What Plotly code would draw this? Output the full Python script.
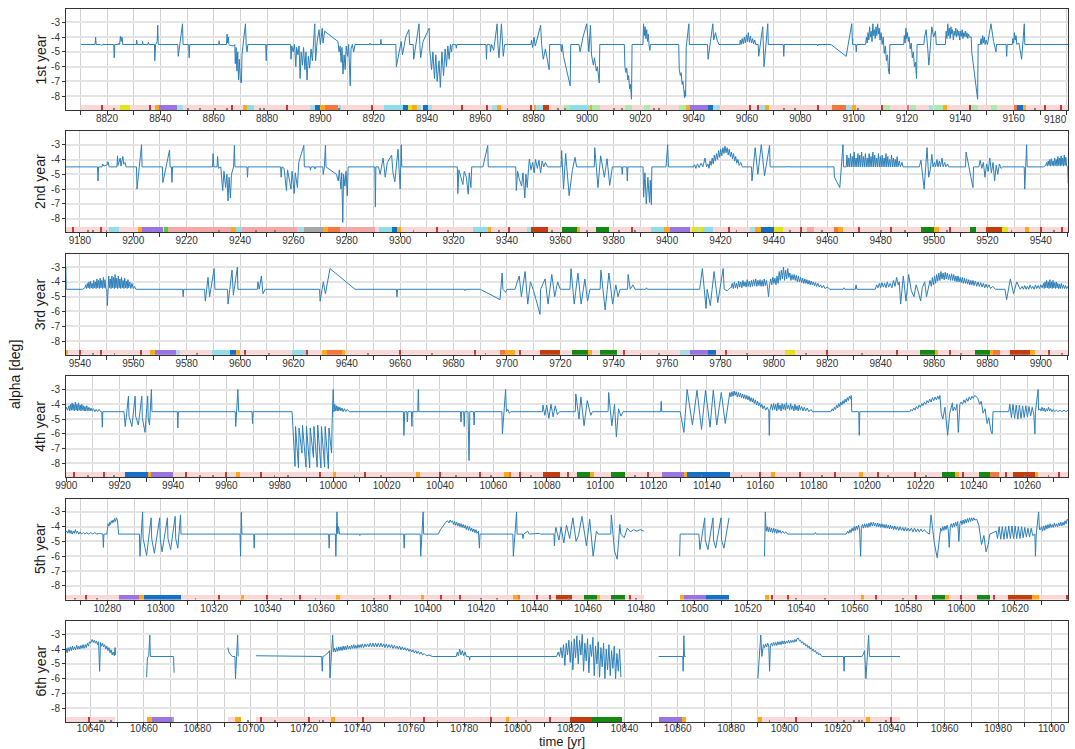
import math
import plotly.graph_objects as go
from plotly.subplots import make_subplots

# ---------------------------------------------------------------------------
# alpha [deg] time series, (time [yr], alpha) pairs; None marks a data gap
# ---------------------------------------------------------------------------
year1 = [
    (8810.2, -4.5), (8815.5, -4.5), (8815.7, -4.0), (8815.9, -4.5), (8817.5, -4.5), (8818.0, -4.55), (8818.5, -4.5),
    (8822.5, -4.5), (8822.7, -5.4), (8822.9, -4.5), (8824.3, -4.5), (8824.5, -4.4), (8824.7, -4.5), (8825.0, -3.95),
    (8825.3, -4.3), (8825.6, -4.0), (8825.9, -4.5),
    (8831.0, -4.5), (8831.1, -4.2), (8831.3, -4.5), (8833.2, -4.5), (8833.3, -4.3), (8833.5, -4.5), (8835.3, -4.5),
    (8835.5, -4.35), (8835.7, -4.5),
    (8837.8, -4.5), (8837.9, -5.6), (8838.2, -4.5), (8838.8, -4.3), (8839.0, -3.2), (8839.2, -4.5),
    (8846.5, -4.5), (8846.7, -5.3), (8848.3, -3.1), (8848.5, -4.5),
    (8850.6, -4.5), (8850.8, -5.4), (8851.0, -4.5),
    (8861.9, -4.5), (8862.0, -4.25), (8862.2, -4.5), (8864.8, -4.5), (8865.0, -3.8), (8865.2, -4.4), (8865.5, -4.0),
    (8865.7, -4.5), (8866.0, -4.55), (8867.5, -4.6),
    (8867.9, -4.5), (8868.1, -5.8), (8868.4, -4.7), (8868.7, -6.3), (8869.0, -5.0), (8869.3, -6.9), (8869.6, -5.5),
    (8870.0, -7.0), (8870.4, -7.1), (8870.6, -5.2), (8871.0, -4.6),
    (8871.9, -3.1), (8872.2, -4.6), (8872.5, -5.0), (8872.8, -4.5),
    (8879.5, -4.5), (8879.7, -5.6), (8879.9, -4.5),
    (8888.8, -4.5), (8889.0, -5.5), (8889.3, -4.6), (8889.8, -5.0), (8890.3, -4.5), (8890.8, -6.0), (8891.1, -4.7),
    (8891.6, -5.2), (8892.0, -4.6), (8892.4, -6.8), (8892.8, -5.0), (8893.3, -5.9), (8893.7, -4.7), (8894.2, -6.2),
    (8894.6, -5.0), (8895.0, -6.9), (8895.5, -5.3), (8896.0, -6.1), (8896.5, -4.8), (8897.0, -5.6),
    (8897.9, -3.1), (8898.2, -5.6), (8898.8, -4.3), (8899.5, -3.5), (8900.0, -4.5), (8900.7, -3.4), (8901.0, -4.4),
    (8901.6, -3.6), (8906.6, -4.3),
    (8907.0, -5.0), (8907.4, -4.6), (8907.8, -5.7), (8908.1, -4.7), (8908.5, -6.5), (8908.9, -5.2), (8909.3, -6.2),
    (8909.7, -4.6), (8910.2, -5.3), (8910.6, -4.5), (8911.2, -7.3), (8911.5, -4.8), (8912.0, -4.5), (8912.5, -5.0),
    (8913.0, -4.5),
    (8918.5, -4.5), (8918.6, -4.4), (8918.8, -4.5), (8922.6, -4.5), (8922.7, -4.15), (8922.9, -4.5),
    (8928.3, -4.5), (8928.5, -6.0), (8930.3, -4.3), (8930.8, -5.2), (8932.0, -4.0), (8933.2, -3.5), (8933.5, -4.5),
    (8934.8, -4.5), (8935.0, -5.5), (8937.0, -3.1), (8937.3, -4.5), (8937.6, -5.4), (8938.5, -4.3), (8940.8, -3.4),
    (8941.0, -4.8),
    (8941.7, -6.2), (8942.2, -5.0), (8942.8, -6.8), (8943.3, -5.2), (8943.8, -7.0), (8944.5, -5.6), (8945.0, -7.4),
    (8945.6, -5.0), (8946.2, -6.6), (8946.8, -4.8), (8947.3, -6.0), (8947.8, -4.6), (8948.3, -5.5), (8948.8, -4.5),
    (8949.2, -5.0), (8949.5, -4.5),
    (8950.8, -4.5), (8951.0, -4.75), (8951.2, -4.5),
    (8962.1, -4.5), (8962.3, -5.5), (8962.5, -4.5), (8963.6, -4.5), (8963.8, -5.0), (8964.2, -4.5), (8965.0, -4.9),
    (8966.3, -3.1), (8966.6, -4.6), (8967.0, -5.4), (8967.9, -3.1), (8968.2, -4.6), (8968.6, -5.3), (8969.1, -4.5),
    (8979.0, -4.5), (8979.2, -4.2), (8979.6, -4.7), (8980.1, -4.0), (8980.6, -4.6), (8981.2, -4.2), (8982.6, -3.2),
    (8983.0, -4.5), (8983.6, -5.5), (8984.4, -4.8), (8985.8, -6.2), (8986.0, -4.5),
    (8990.2, -4.5), (8990.4, -5.0), (8990.7, -4.5), (8991.2, -5.3), (8993.7, -7.3), (8993.9, -4.5),
    (8997.0, -4.5), (8997.4, -5.0), (8998.5, -4.0), (8999.9, -3.1), (9000.3, -4.5), (9000.7, -5.0), (9001.3, -3.2),
    (9001.7, -5.2), (9002.4, -5.9), (9002.8, -5.4), (9003.5, -6.3), (9003.9, -6.0), (9004.6, -7.1), (9004.8, -4.5),
    (9014.0, -4.5), (9014.2, -6.0), (9014.6, -6.4), (9014.9, -6.1), (9015.3, -6.9), (9015.6, -6.6), (9016.0, -7.5),
    (9016.3, -7.2), (9016.7, -8.2), (9016.9, -4.5),
    (9021.0, -4.5), (9021.2, -3.1), (9021.5, -3.9), (9021.8, -3.3), (9022.1, -4.1), (9022.4, -3.5), (9022.7, -4.3),
    (9023.0, -3.8), (9023.3, -4.6), (9023.6, -4.9), (9023.8, -4.5),
    (9034.4, -4.5), (9034.6, -6.2), (9035.0, -6.6), (9035.3, -6.4), (9035.7, -7.2), (9036.0, -7.0), (9036.3, -7.7),
    (9036.6, -8.1), (9036.8, -7.6), (9037.0, -8.0), (9037.2, -4.7), (9038.2, -3.1), (9038.4, -4.5),
    (9045.2, -4.5), (9045.4, -5.5), (9047.2, -3.1), (9047.5, -4.2), (9048.2, -3.7), (9048.8, -4.2), (9049.5, -4.5),
    (9057.3, -4.5), (9057.5, -4.2), (9057.8, -4.5), (9058.2, -4.1), (9058.6, -4.45), (9059.0, -4.0), (9059.4, -4.4),
    (9059.8, -3.85), (9060.2, -4.3), (9060.5, -3.7), (9060.9, -4.35), (9061.3, -3.95), (9061.7, -4.4), (9062.1, -4.1),
    (9062.5, -4.45), (9062.9, -4.2), (9063.3, -4.5),
    (9064.2, -4.5), (9064.4, -5.3), (9065.9, -3.3), (9066.4, -6.0), (9067.8, -3.1), (9068.0, -4.5),
    (9073.6, -4.5), (9073.8, -5.3), (9074.0, -4.5),
    (9086.3, -4.5), (9086.5, -4.6), (9086.7, -4.5),
    (9091.5, -4.5), (9097.2, -5.3), (9099.3, -3.1), (9099.6, -4.5), (9100.8, -4.5), (9101.0, -5.0), (9101.2, -4.5),
    (9104.5, -4.5), (9104.8, -4.0), (9105.1, -4.4), (9105.4, -3.7), (9105.7, -4.2), (9106.0, -3.3), (9106.3, -4.0),
    (9106.6, -3.6), (9106.9, -4.3), (9107.2, -3.1), (9107.5, -3.9), (9107.8, -3.5), (9108.1, -4.1), (9108.4, -3.3),
    (9108.7, -3.9), (9109.0, -3.1), (9109.3, -3.8), (9109.6, -3.4), (9109.9, -4.2), (9110.3, -3.7), (9110.7, -4.5),
    (9111.1, -4.0), (9111.5, -5.1), (9111.9, -4.6), (9112.3, -5.6), (9112.7, -5.2), (9113.1, -6.3), (9113.4, -6.5),
    (9113.6, -4.5),
    (9118.8, -4.5), (9119.0, -3.9), (9119.3, -4.4), (9119.6, -3.4), (9119.9, -4.1), (9120.2, -3.7), (9120.5, -4.3),
    (9120.8, -4.0), (9121.2, -4.8), (9121.6, -4.4), (9122.0, -5.4), (9122.4, -5.0), (9122.8, -6.0), (9123.2, -5.7),
    (9123.6, -6.8), (9123.8, -4.5),
    (9126.3, -4.5), (9126.6, -4.0), (9127.2, -3.5), (9127.8, -4.8), (9128.2, -5.9), (9128.5, -5.3), (9129.3, -3.3),
    (9130.0, -4.0), (9130.7, -3.6), (9131.0, -4.5),
    (9134.4, -4.5), (9134.7, -3.6), (9135.0, -4.1), (9135.3, -3.1), (9135.6, -3.9), (9135.9, -3.4), (9136.2, -4.1),
    (9136.5, -3.3), (9136.8, -3.8), (9137.1, -3.5), (9137.4, -4.2), (9137.7, -3.6), (9138.0, -3.9), (9138.3, -3.4),
    (9138.6, -4.0), (9138.9, -3.5), (9139.2, -3.9), (9139.5, -3.6), (9139.8, -4.2), (9140.1, -3.6), (9140.4, -3.95),
    (9140.7, -3.5), (9141.0, -4.1), (9141.3, -3.7), (9141.6, -3.95), (9141.9, -3.6), (9142.2, -4.0), (9142.5, -3.7),
    (9142.8, -4.1), (9143.1, -3.8), (9143.4, -4.0),
    (9144.1, -4.0), (9144.3, -5.0), (9146.5, -8.2), (9146.7, -4.5),
    (9147.5, -4.5), (9147.8, -4.1), (9148.1, -4.5), (9148.4, -3.9), (9148.7, -4.4), (9149.0, -4.0), (9149.3, -4.5),
    (9149.7, -4.2), (9150.2, -4.5), (9151.5, -3.1), (9152.5, -4.3), (9153.4, -5.0), (9153.6, -4.5),
    (9157.2, -4.5), (9157.4, -5.3), (9157.6, -4.5),
    (9159.5, -4.5), (9159.7, -4.1), (9160.0, -4.4), (9160.3, -3.7), (9160.6, -4.2), (9160.9, -3.9), (9161.2, -4.5),
    (9162.0, -4.4), (9163.0, -5.5), (9164.0, -3.1), (9164.2, -4.5),
    (9172.5, -4.5), (9172.7, -4.55), (9172.9, -4.5), (9177.0, -4.5),
]

year2 = [
    (9186.6, -4.5), (9186.8, -5.45), (9187.0, -4.5), (9188.3, -4.5), (9188.5, -4.3), (9189.0, -4.45), (9190.3, -4.35),
    (9190.5, -4.15), (9190.7, -4.4), (9191.0, -4.5),
    (9193.9, -4.5), (9194.1, -3.75), (9194.3, -4.4), (9194.8, -4.1), (9195.1, -3.9), (9195.4, -4.45), (9196.1, -3.8),
    (9196.4, -4.3), (9197.0, -4.2), (9197.3, -4.5),
    (9201.2, -4.5), (9201.4, -6.0), (9203.1, -3.0), (9203.3, -4.5),
    (9210.9, -4.5), (9211.1, -5.55), (9213.6, -3.36), (9213.8, -4.5), (9214.3, -4.5), (9214.5, -5.55), (9214.7, -4.5),
    (9229.7, -4.5), (9229.9, -3.6), (9230.2, -4.5), (9231.4, -4.5), (9231.6, -3.8), (9231.9, -4.6), (9232.8, -4.5),
    (9233.5, -6.1), (9234.0, -4.8), (9234.6, -5.9), (9235.1, -5.0), (9235.5, -6.8), (9235.9, -5.2), (9236.4, -6.6),
    (9236.8, -5.0), (9237.6, -4.5), (9237.9, -3.05), (9238.1, -4.5),
    (9242.6, -4.5), (9242.8, -5.2), (9243.0, -4.5),
    (9255.2, -4.5), (9255.4, -5.2), (9255.7, -4.5), (9256.5, -4.6), (9257.4, -6.1), (9257.8, -4.7), (9258.4, -5.3),
    (9259.1, -6.0), (9259.5, -4.8), (9260.3, -6.3), (9260.7, -4.9), (9261.5, -5.9), (9262.0, -4.2), (9263.9, -3.05),
    (9264.1, -4.5),
    (9266.2, -4.5), (9266.4, -4.72), (9266.6, -4.5), (9267.9, -4.5), (9268.1, -4.65), (9268.3, -4.5),
    (9271.0, -4.5), (9271.2, -5.0), (9271.6, -4.5), (9272.0, -3.05), (9272.2, -4.5), (9276.1, -5.0), (9276.8, -5.45),
    (9277.2, -4.7), (9277.8, -6.0), (9278.1, -4.9), (9278.5, -8.25), (9278.8, -5.0), (9279.3, -5.8), (9279.7, -4.8),
    (9280.2, -6.45), (9280.5, -4.5),
    (9290.5, -4.5), (9290.7, -7.2), (9290.9, -4.5), (9291.9, -4.5), (9292.5, -5.0), (9293.6, -3.9), (9294.4, -5.2),
    (9295.2, -4.2), (9296.8, -3.7), (9297.3, -4.9), (9298.0, -5.5), (9299.2, -3.3), (9299.6, -4.6), (9300.0, -6.0),
    (9300.4, -3.0), (9300.6, -4.5),
    (9321.4, -4.5), (9321.6, -6.3), (9322.0, -4.7), (9322.8, -5.3), (9323.5, -5.7), (9324.0, -4.8), (9324.8, -5.2),
    (9325.5, -6.35), (9325.9, -4.9), (9326.5, -5.9), (9326.8, -4.5),
    (9331.0, -4.5), (9332.8, -3.05), (9333.0, -4.5),
    (9343.3, -4.5), (9343.5, -6.1), (9344.0, -4.8), (9344.6, -5.3), (9345.5, -5.8), (9346.0, -4.9), (9346.7, -6.6),
    (9347.1, -5.0), (9347.6, -5.9), (9348.1, -4.6),
    (9348.4, -3.97), (9349.0, -4.7), (9349.6, -4.2), (9350.2, -4.9), (9350.7, -4.0), (9351.4, -4.6), (9352.0, -4.05),
    (9352.6, -4.9), (9353.2, -4.1), (9353.8, -4.5), (9354.4, -4.2), (9355.2, -4.5),
    (9360.3, -4.5), (9360.5, -3.4), (9361.2, -6.0), (9362.0, -3.6), (9363.3, -6.45), (9364.5, -4.75), (9365.5, -3.85),
    (9366.1, -4.5),
    (9372.7, -4.5), (9372.9, -3.2), (9374.1, -5.9), (9375.1, -3.75), (9376.5, -5.2), (9377.5, -3.95), (9378.5, -5.75),
    (9379.5, -4.5),
    (9383.0, -4.5), (9383.2, -5.0), (9383.4, -4.5), (9384.9, -4.5), (9385.1, -5.45), (9385.3, -4.5),
    (9391.0, -4.5), (9391.2, -6.55), (9391.7, -4.9), (9392.2, -7.0), (9392.8, -5.2), (9393.4, -6.9), (9393.7, -5.4),
    (9394.1, -7.05), (9394.3, -4.5),
    (9399.6, -4.5), (9400.2, -3.0), (9400.5, -4.5),
    (9409.9, -4.5), (9410.3, -4.35), (9410.8, -4.6), (9411.4, -4.3), (9412.0, -4.55), (9412.7, -4.25), (9413.4, -4.5),
    (9414.2, -3.9), (9414.8, -4.5),
    (9415.3, -4.3), (9415.7, -4.6), (9416.1, -4.1), (9416.5, -4.4), (9416.9, -3.9), (9417.3, -4.3), (9417.7, -3.7),
    (9418.1, -4.1), (9418.5, -3.6), (9418.9, -4.0), (9419.3, -3.4), (9419.7, -3.85), (9420.1, -3.3), (9420.5, -3.75),
    (9420.9, -3.2), (9421.3, -3.6), (9421.7, -3.1), (9422.1, -3.55), (9422.5, -3.2), (9422.9, -3.7), (9423.3, -3.3),
    (9423.7, -3.8), (9424.1, -3.5), (9424.5, -3.95), (9424.9, -3.6), (9425.3, -4.1), (9425.7, -3.8), (9426.1, -4.25),
    (9426.5, -4.0), (9427.0, -4.4), (9427.6, -4.2), (9428.2, -4.5),
    (9431.6, -4.5), (9431.8, -5.45), (9433.0, -3.2), (9434.0, -5.0), (9435.3, -3.0), (9436.5, -5.1), (9438.4, -3.05),
    (9438.6, -4.5),
    (9445.0, -4.5), (9445.1, -4.45), (9445.3, -4.5),
    (9462.5, -4.5), (9462.7, -5.2), (9464.0, -5.6), (9464.7, -5.9), (9465.9, -3.0), (9466.1, -4.5),
    (9467.1, -4.5), (9467.4, -3.7), (9467.7, -4.5), (9468.0, -3.9), (9468.3, -4.5), (9468.7, -3.6), (9469.0, -4.5),
    (9469.4, -3.8), (9469.7, -4.5), (9470.1, -3.5), (9470.4, -4.5), (9470.8, -3.9), (9471.1, -4.5), (9471.5, -3.6),
    (9471.8, -4.5), (9472.2, -3.7), (9472.5, -4.5), (9472.9, -3.5), (9473.2, -4.5), (9473.6, -3.8), (9473.9, -4.5),
    (9474.3, -3.6), (9474.6, -4.5), (9475.0, -3.9), (9475.3, -4.5), (9475.7, -3.6), (9476.0, -4.5), (9476.4, -3.8),
    (9476.7, -4.5), (9477.1, -3.5), (9477.4, -4.5), (9477.8, -3.7), (9478.1, -4.5), (9478.5, -3.9), (9478.8, -4.5),
    (9479.2, -3.6), (9479.5, -4.5), (9479.9, -3.8), (9480.2, -4.5), (9480.6, -3.7), (9480.9, -4.5), (9481.3, -3.9),
    (9481.6, -4.5), (9482.0, -3.6), (9482.3, -4.5), (9482.7, -3.8), (9483.0, -4.5), (9483.4, -4.0), (9483.7, -4.5),
    (9484.1, -3.7), (9484.4, -4.5), (9484.8, -3.9), (9485.1, -4.5), (9485.5, -4.0), (9485.8, -4.5), (9486.2, -3.8),
    (9486.5, -4.5), (9487.0, -4.1), (9487.4, -4.5), (9488.0, -4.2), (9488.4, -4.5),
    (9494.5, -4.5), (9495.1, -4.05), (9495.6, -4.8), (9496.3, -6.0), (9497.4, -3.2), (9498.0, -5.2), (9498.6, -4.7),
    (9499.2, -3.65), (9499.6, -4.5),
    (9500.2, -4.2), (9500.6, -4.5), (9501.1, -4.0), (9501.5, -4.5), (9502.0, -4.1), (9502.4, -4.5), (9503.0, -3.9),
    (9503.4, -4.5), (9504.0, -4.2), (9504.4, -4.5), (9505.1, -4.3), (9505.5, -4.5),
    (9511.8, -4.5), (9512.0, -3.5), (9514.6, -5.9), (9514.8, -4.5), (9516.8, -4.5), (9517.3, -4.05), (9517.9, -4.6),
    (9518.5, -4.2), (9519.1, -5.2), (9519.7, -4.3), (9520.3, -4.8), (9520.9, -3.9), (9521.5, -4.9), (9522.1, -4.2),
    (9522.7, -5.45), (9523.3, -4.4), (9523.9, -5.0), (9524.5, -4.3), (9525.1, -4.6), (9525.7, -4.5),
    (9533.8, -4.5), (9534.0, -6.0), (9534.7, -3.0), (9534.9, -4.5), (9541.0, -4.5),
]

year3 = [
    (9541.9, -4.4), (9542.2, -4.2), (9542.5, -4.45), (9542.8, -4.1), (9543.1, -4.4), (9543.4, -4.0), (9543.7, -4.45),
    (9544.0, -3.95), (9544.3, -4.4), (9544.6, -4.1), (9544.9, -4.45), (9545.2, -3.9), (9545.5, -4.4), (9545.8, -4.0),
    (9546.1, -4.45), (9546.4, -3.8), (9546.7, -4.4), (9547.0, -3.9), (9547.3, -4.45), (9547.6, -3.75), (9547.9, -4.4),
    (9548.2, -3.9), (9548.5, -4.45), (9548.8, -3.7), (9549.1, -4.4), (9549.4, -3.85), (9549.7, -4.45), (9550.1, -4.5),
    (9550.3, -5.6), (9550.5, -4.4), (9550.8, -3.6), (9551.1, -4.4), (9551.4, -3.8), (9551.7, -4.45), (9552.0, -3.6),
    (9552.3, -4.4), (9552.6, -3.7), (9552.9, -4.45), (9553.2, -3.5), (9553.5, -4.4), (9553.8, -3.75), (9554.1, -4.45),
    (9554.4, -3.6), (9554.7, -4.4), (9555.0, -3.8), (9555.3, -4.45), (9555.6, -3.7), (9555.9, -4.4), (9556.2, -3.9),
    (9556.5, -4.45), (9556.8, -3.75), (9557.1, -4.4), (9557.4, -3.95), (9557.7, -4.45), (9558.0, -3.85), (9558.3, -4.4),
    (9558.7, -4.0), (9559.1, -4.45), (9559.5, -4.1), (9560.0, -4.45), (9560.5, -4.3), (9561.0, -4.5),
    (9568.0, -4.5), (9568.2, -4.45), (9568.4, -4.5),
    (9578.5, -4.5), (9578.7, -5.0), (9578.9, -4.5),
    (9586.7, -4.5), (9587.0, -5.3), (9588.0, -3.7), (9588.6, -5.0), (9590.3, -3.1), (9590.6, -4.5),
    (9595.3, -4.5), (9595.5, -5.5), (9597.0, -3.2), (9597.5, -4.9), (9599.0, -3.0), (9599.2, -4.5),
    (9606.5, -4.5), (9606.7, -4.0), (9607.2, -4.5), (9608.0, -3.6), (9608.6, -4.8), (9609.4, -4.5),
    (9629.8, -4.5), (9630.0, -5.3), (9631.2, -4.0), (9632.0, -4.8), (9633.7, -3.1), (9643.1, -4.5),
    (9658.6, -4.5), (9658.8, -5.0), (9659.0, -4.5),
    (9684.1, -4.5), (9684.3, -4.6), (9684.5, -4.5),
    (9690.0, -4.5), (9697.4, -5.2), (9698.2, -3.4), (9698.5, -4.5), (9699.5, -4.7), (9700.0, -4.5),
    (9703.0, -4.5), (9703.8, -4.0), (9704.6, -3.6), (9705.4, -5.0), (9706.8, -3.3), (9707.8, -5.5), (9708.8, -4.0),
    (9710.0, -4.6), (9712.4, -6.2), (9712.6, -4.5),
    (9714.3, -3.8), (9715.4, -5.5), (9716.8, -3.5), (9717.9, -5.0), (9719.0, -4.0), (9720.0, -4.5),
    (9723.6, -4.5), (9724.0, -3.1), (9725.2, -5.5), (9726.6, -3.4), (9727.8, -5.5), (9729.2, -3.8), (9730.2, -5.3),
    (9731.1, -4.5),
    (9734.9, -4.5), (9735.2, -3.2), (9736.8, -5.9), (9738.2, -3.4), (9739.6, -5.5), (9740.8, -4.2), (9741.6, -5.0),
    (9742.4, -4.5),
    (9745.2, -4.5), (9745.4, -3.5), (9746.2, -4.5), (9747.2, -4.2), (9748.0, -4.5),
    (9752.0, -4.5), (9752.3, -4.4), (9752.6, -4.5), (9760.0, -4.5), (9760.3, -4.45), (9760.6, -4.5),
    (9772.2, -4.5), (9773.2, -3.1), (9774.6, -5.8), (9775.0, -4.5), (9776.2, -5.6), (9777.6, -3.3), (9779.0, -5.4),
    (9781.0, -3.1), (9781.4, -4.5), (9782.5, -4.6), (9783.6, -4.4),
    (9784.0, -4.4), (9784.4, -4.1), (9784.8, -4.45), (9785.2, -4.0), (9785.6, -4.4), (9786.0, -4.1), (9786.4, -4.45),
    (9786.8, -3.95), (9787.2, -4.35), (9787.6, -4.0), (9788.0, -4.4), (9788.4, -3.9), (9788.8, -4.3), (9789.2, -4.0),
    (9789.6, -4.35), (9790.0, -3.85), (9790.4, -4.3), (9790.8, -3.95), (9791.2, -4.35), (9791.6, -3.9), (9792.0, -4.3),
    (9792.4, -3.85), (9792.8, -4.25), (9793.2, -3.8), (9793.6, -4.3), (9794.0, -3.9), (9794.4, -4.25), (9794.8, -3.85),
    (9795.2, -4.3), (9795.6, -3.9), (9796.0, -4.3), (9796.4, -3.8), (9796.8, -4.25), (9797.2, -3.9), (9797.6, -4.3),
    (9798.0, -5.0), (9798.4, -4.2), (9798.8, -3.8), (9799.2, -4.2), (9799.6, -3.7), (9800.0, -4.1), (9800.4, -3.75),
    (9800.8, -4.2), (9801.2, -3.6), (9801.6, -4.1), (9802.0, -3.3), (9802.4, -3.9), (9802.8, -3.2), (9803.2, -3.8),
    (9803.6, -3.0), (9804.0, -3.9), (9804.4, -3.2), (9804.8, -3.8), (9805.2, -3.1), (9805.6, -3.7), (9806.0, -3.4),
    (9806.4, -3.9), (9806.8, -3.5), (9807.2, -3.85), (9807.6, -3.5), (9808.0, -3.9), (9808.4, -3.55), (9808.8, -4.0),
    (9809.2, -3.6), (9809.6, -4.0), (9810.0, -3.7), (9810.4, -4.05), (9810.8, -3.75), (9811.2, -4.1), (9811.6, -3.8),
    (9812.0, -4.1), (9812.4, -3.85), (9812.8, -4.15), (9813.2, -3.9), (9813.6, -4.2), (9814.0, -3.95), (9814.4, -4.2),
    (9814.8, -4.0), (9815.2, -4.25), (9815.6, -4.05), (9816.0, -4.3), (9816.5, -4.1), (9817.0, -4.35), (9817.5, -4.2),
    (9818.0, -4.4), (9818.6, -4.25), (9819.2, -4.45), (9820.0, -4.35), (9821.0, -4.5),
    (9826.0, -4.5), (9826.3, -4.4), (9826.6, -4.5), (9830.5, -4.5), (9830.8, -4.2), (9831.1, -4.5),
    (9838.0, -4.5), (9838.5, -4.2), (9839.0, -4.4), (9839.5, -4.1), (9840.0, -4.4), (9840.5, -4.05), (9841.0, -4.35),
    (9841.5, -4.1), (9842.0, -4.4), (9842.5, -4.0), (9843.0, -4.35), (9843.6, -4.1), (9844.2, -4.4), (9844.8, -3.9),
    (9845.4, -4.3), (9846.0, -3.7), (9846.6, -4.2), (9847.0, -4.0), (9847.5, -5.5), (9848.5, -3.6), (9849.5, -5.3),
    (9850.5, -3.5), (9851.5, -4.6), (9852.5, -5.0), (9853.3, -4.2), (9854.0, -4.6), (9855.0, -5.3), (9855.6, -4.4),
    (9856.5, -4.0), (9857.2, -5.0), (9858.0, -4.2),
    (9858.5, -3.9), (9859.0, -4.3), (9859.4, -3.7), (9859.8, -4.2), (9860.2, -3.6), (9860.6, -4.1), (9861.0, -3.5),
    (9861.4, -3.95), (9861.8, -3.4), (9862.2, -3.9), (9862.6, -3.3), (9863.0, -3.8), (9863.4, -3.4), (9863.8, -3.85),
    (9864.2, -3.35), (9864.6, -3.8), (9865.0, -3.4), (9865.4, -3.85), (9865.8, -3.5), (9866.2, -3.9), (9866.6, -3.45),
    (9867.0, -3.9), (9867.4, -3.5), (9867.8, -3.95), (9868.2, -3.6), (9868.6, -4.0), (9869.0, -3.6), (9869.4, -4.0),
    (9869.8, -3.7), (9870.2, -4.05), (9870.6, -3.7), (9871.0, -4.1), (9871.4, -3.75), (9871.8, -4.1), (9872.2, -3.8),
    (9872.6, -4.15), (9873.0, -3.85), (9873.4, -4.2), (9873.8, -3.9), (9874.2, -4.2), (9874.6, -3.9), (9875.0, -4.25),
    (9875.5, -3.95), (9876.0, -4.3), (9876.5, -4.0), (9877.0, -4.3), (9877.5, -4.05), (9878.0, -4.35), (9878.5, -4.1),
    (9879.0, -4.4), (9879.5, -4.15), (9880.0, -4.4), (9880.6, -4.2), (9881.2, -4.45), (9882.0, -4.3), (9883.0, -4.5),
    (9886.6, -4.5), (9887.2, -5.2), (9888.6, -3.8), (9889.8, -4.8), (9891.0, -4.0), (9892.3, -4.5),
    (9893.0, -4.3), (9893.5, -4.5), (9894.0, -4.25), (9894.5, -4.5), (9895.0, -4.3), (9895.5, -4.5), (9896.0, -4.2),
    (9896.5, -4.45), (9897.0, -4.3), (9897.5, -4.5), (9898.0, -4.2), (9898.5, -4.45), (9899.0, -4.25), (9899.5, -4.45),
    (9900.0, -4.2),
]

year4 = [
    (9900.5, -4.4), (9901.0, -4.1), (9901.3, -4.45), (9901.6, -4.0), (9901.9, -4.4), (9902.2, -3.9), (9902.5, -4.4),
    (9902.8, -4.0), (9903.1, -4.45), (9903.4, -3.85), (9903.7, -4.4), (9904.0, -4.0), (9904.3, -4.45), (9904.6, -3.9),
    (9904.9, -4.4), (9905.2, -4.05), (9905.5, -4.45), (9905.8, -4.0), (9906.1, -4.4), (9906.4, -4.1), (9906.7, -4.45),
    (9907.0, -4.15), (9907.3, -4.45), (9907.7, -4.1), (9908.1, -4.45), (9908.5, -4.2), (9908.9, -4.45), (9909.3, -4.25),
    (9909.7, -4.45), (9910.2, -4.3), (9910.7, -4.5), (9911.2, -4.35), (9911.7, -4.5), (9912.3, -4.35), (9912.9, -4.5),
    (9913.3, -4.5), (9913.5, -5.55), (9913.7, -4.5),
    (9921.6, -4.5), (9922.1, -5.5), (9923.3, -3.45), (9923.5, -4.8), (9924.6, -5.5), (9925.8, -3.45), (9926.0, -4.8),
    (9927.0, -5.4), (9928.3, -3.45), (9928.5, -4.9), (9929.5, -5.9), (9930.5, -3.45), (9930.7, -4.9), (9931.2, -5.4),
    (9931.9, -3.0), (9932.1, -4.5),
    (9941.6, -4.5), (9941.8, -5.6), (9942.0, -4.5),
    (9963.3, -4.5), (9963.5, -5.5), (9963.9, -4.5), (9964.3, -3.0), (9964.6, -4.5),
    (9969.6, -4.5), (9969.8, -5.3), (9970.0, -4.5),
    (9984.6, -4.5), (9984.8, -5.3), (9985.7, -8.2), (9985.9, -5.5), (9987.0, -8.3), (9987.2, -5.6), (9988.3, -7.3),
    (9988.5, -5.4), (9989.8, -8.25), (9990.0, -5.5), (9991.2, -8.3), (9991.4, -5.6), (9992.6, -7.6), (9992.8, -5.5),
    (9994.0, -8.25), (9994.2, -5.4), (9995.4, -8.3), (9995.6, -5.5), (9996.8, -8.25), (9997.0, -5.5), (9998.2, -8.35),
    (9998.4, -5.6), (9999.4, -7.3), (9999.6, -5.3), (10000.0, -3.0), (10000.3, -4.5),
    (10000.6, -4.0), (10000.9, -4.45), (10001.2, -4.1), (10001.5, -4.45), (10001.8, -4.15), (10002.1, -4.45),
    (10002.5, -4.2), (10002.9, -4.45), (10003.3, -4.25), (10003.7, -4.5), (10004.2, -4.3), (10004.7, -4.5),
    (10005.3, -4.35), (10006.0, -4.5),
    (10026.3, -4.5), (10026.5, -6.1), (10026.8, -4.5), (10027.6, -4.5), (10027.8, -5.2), (10028.0, -4.5),
    (10029.3, -4.5), (10029.5, -5.5), (10029.7, -4.5), (10031.7, -4.5), (10031.9, -3.0), (10032.1, -4.5),
    (10047.7, -4.5), (10047.9, -5.2), (10048.1, -4.5), (10048.9, -4.5), (10049.1, -5.5), (10049.3, -4.5),
    (10050.5, -4.5), (10050.9, -7.8), (10051.2, -4.5), (10052.6, -4.5), (10052.8, -5.4), (10053.0, -4.5),
    (10063.2, -4.5), (10063.4, -6.0), (10064.6, -3.0), (10064.9, -4.5), (10065.4, -4.35), (10066.0, -4.6),
    (10066.6, -4.5),
    (10078.4, -4.5), (10078.6, -4.05), (10079.3, -4.75), (10080.0, -4.05), (10080.8, -4.95), (10081.6, -4.0),
    (10082.4, -4.85), (10083.2, -4.1), (10084.0, -4.7), (10084.8, -4.5),
    (10090.7, -4.5), (10090.9, -3.3), (10092.1, -5.0), (10092.8, -3.5), (10094.0, -5.45), (10095.2, -3.75),
    (10096.5, -4.75), (10097.1, -4.5),
    (10103.0, -4.5), (10103.2, -3.2), (10104.4, -5.45), (10105.4, -4.0), (10106.1, -6.2), (10106.9, -4.3),
    (10107.8, -4.8), (10108.6, -4.5),
    (10122.7, -4.5), (10122.9, -3.8), (10123.1, -4.5),
    (10130.0, -4.5), (10131.4, -5.9), (10132.6, -3.0), (10134.6, -5.4), (10136.3, -3.05), (10138.0, -5.7),
    (10139.5, -3.05), (10141.2, -5.55), (10142.4, -3.05), (10143.7, -5.4), (10145.4, -3.2), (10146.9, -5.3),
    (10148.6, -3.2),
    (10149.0, -3.5), (10149.4, -3.15), (10149.8, -3.45), (10150.2, -3.1), (10150.6, -3.4), (10151.0, -3.15),
    (10151.4, -3.5), (10151.8, -3.2), (10152.2, -3.5), (10152.6, -3.25), (10153.0, -3.55), (10153.4, -3.3),
    (10153.8, -3.6), (10154.2, -3.35), (10154.6, -3.65), (10155.0, -3.4), (10155.4, -3.7), (10155.8, -3.45),
    (10156.2, -3.8), (10156.6, -3.55), (10157.0, -3.85), (10157.4, -3.6), (10157.8, -3.95), (10158.2, -3.7),
    (10158.6, -4.05), (10159.0, -3.8), (10159.4, -4.1), (10159.8, -3.9), (10160.2, -4.2), (10160.6, -4.0),
    (10161.0, -4.3), (10161.5, -4.1), (10162.0, -4.4), (10162.6, -4.2), (10163.2, -4.45),
    (10163.4, -6.1), (10163.6, -4.4),
    (10164.2, -4.0), (10164.6, -4.4), (10165.0, -3.95), (10165.4, -4.35), (10165.8, -4.0), (10166.2, -4.45),
    (10166.6, -3.9), (10167.0, -4.35), (10167.4, -4.05), (10167.8, -4.45), (10168.2, -3.95), (10168.6, -4.35),
    (10169.0, -4.0), (10169.4, -4.4), (10169.8, -3.9), (10170.2, -4.3), (10170.6, -4.05), (10171.0, -4.4),
    (10171.4, -3.95), (10171.8, -4.35), (10172.2, -4.1), (10172.6, -4.45), (10173.0, -4.0), (10173.4, -4.4),
    (10173.8, -4.1), (10174.2, -4.45), (10174.6, -4.05), (10175.0, -4.4), (10175.5, -4.15), (10176.0, -4.45),
    (10176.5, -4.2), (10177.0, -4.45), (10177.6, -4.25), (10178.2, -4.5), (10179.0, -4.35), (10179.6, -4.5),
    (10186.5, -4.5), (10187.0, -4.3), (10187.4, -4.45), (10187.8, -4.2), (10188.2, -4.35), (10188.6, -4.05),
    (10189.0, -4.25), (10189.4, -3.95), (10189.8, -4.15), (10190.2, -3.85), (10190.6, -4.05), (10191.0, -3.75),
    (10191.4, -3.95), (10191.8, -3.65), (10192.2, -3.85), (10192.6, -3.55), (10193.0, -3.75), (10193.4, -3.45),
    (10193.8, -3.65), (10194.1, -3.4), (10194.3, -4.5),
    (10196.9, -4.5), (10197.1, -6.1), (10197.3, -4.5),
    (10216.0, -4.5), (10216.5, -4.35), (10217.0, -4.45), (10217.5, -4.25), (10218.0, -4.4), (10218.5, -4.15),
    (10219.0, -4.3), (10219.5, -4.05), (10220.0, -4.2), (10220.5, -3.95), (10221.0, -4.1), (10221.5, -3.85),
    (10222.0, -4.0), (10222.5, -3.75), (10223.0, -3.9), (10223.5, -3.65), (10224.0, -3.85), (10224.5, -3.55),
    (10225.0, -3.75), (10225.5, -3.5), (10226.0, -3.7), (10226.5, -3.45), (10227.0, -3.65), (10227.3, -3.4),
    (10227.8, -4.6), (10228.4, -5.0), (10229.2, -4.2), (10230.2, -6.1), (10231.0, -4.6), (10232.0, -3.9),
    (10232.2, -4.45), (10232.7, -4.2), (10233.2, -4.4), (10233.7, -4.0), (10234.2, -5.9), (10234.8, -4.0),
    (10235.3, -3.85), (10235.8, -4.0), (10236.3, -3.7), (10236.8, -3.9), (10237.3, -3.6), (10237.8, -3.8),
    (10238.3, -3.5), (10238.8, -3.7), (10239.3, -3.45), (10239.8, -3.6), (10240.3, -3.4), (10240.8, -3.45),
    (10241.5, -3.6), (10242.2, -4.0), (10242.8, -3.8), (10243.5, -4.6), (10244.2, -4.3), (10245.0, -5.3),
    (10245.6, -4.9), (10246.4, -5.8), (10246.9, -6.0), (10247.2, -4.5),
    (10253.1, -4.5), (10253.5, -4.0), (10254.1, -4.9), (10254.7, -4.0), (10255.3, -4.95), (10255.9, -4.05),
    (10256.5, -5.0), (10257.1, -4.05), (10257.7, -4.95), (10258.3, -4.1), (10258.9, -4.9), (10259.5, -4.1),
    (10260.1, -4.85), (10260.7, -4.15), (10261.3, -4.8), (10261.9, -4.2), (10262.5, -4.7), (10262.9, -6.0),
    (10263.1, -4.5), (10264.1, -3.0), (10264.3, -4.4),
]

year5 = [
    (10264.8, -4.3), (10265.2, -4.45), (10265.6, -4.2), (10266.0, -4.45), (10266.4, -4.25), (10266.8, -4.5),
    (10267.2, -4.3), (10267.6, -4.45), (10268.0, -4.2), (10268.4, -4.45), (10268.8, -4.3), (10269.3, -4.5),
    (10269.8, -4.35), (10270.3, -4.5), (10271.0, -4.4), (10271.6, -4.5), (10272.3, -4.4), (10273.0, -4.5),
    (10273.8, -4.4), (10274.5, -4.5), (10275.3, -4.4), (10276.0, -4.5), (10277.0, -4.45), (10278.3, -4.5),
    (10278.5, -5.4), (10278.7, -4.5), (10279.8, -4.5),
    (10280.0, -4.0), (10280.3, -3.8), (10280.6, -3.95), (10280.9, -3.7), (10281.2, -3.85), (10281.5, -3.6),
    (10281.8, -3.75), (10282.1, -3.55), (10282.4, -3.7), (10282.7, -3.45), (10283.0, -3.65), (10283.4, -3.4),
    (10283.8, -3.6), (10284.2, -4.5),
    (10292.0, -4.5), (10292.2, -6.0), (10293.2, -3.0), (10293.4, -4.8), (10294.7, -5.95), (10296.4, -3.4),
    (10296.6, -4.8), (10297.6, -5.8), (10299.6, -3.4), (10299.8, -4.8), (10300.5, -5.7), (10302.5, -3.4),
    (10302.7, -4.8), (10303.7, -5.55), (10305.4, -3.3), (10305.6, -4.8), (10306.4, -5.45), (10307.4, -3.2),
    (10307.6, -4.5),
    (10329.7, -4.5), (10329.9, -6.0), (10330.2, -3.0), (10330.4, -4.5),
    (10334.8, -4.5), (10335.0, -5.45), (10335.2, -4.5),
    (10362.9, -4.5), (10363.1, -5.45), (10363.3, -4.5), (10365.4, -4.5), (10365.6, -6.0), (10366.0, -3.0),
    (10366.3, -4.5), (10366.6, -4.0), (10367.0, -4.5),
    (10374.4, -4.5), (10374.6, -4.6), (10374.8, -4.5),
    (10391.0, -4.5), (10391.2, -5.45), (10391.4, -4.5),
    (10397.2, -4.5), (10397.4, -6.0), (10398.3, -3.0), (10398.5, -4.5),
    (10404.0, -4.5), (10404.8, -4.2), (10405.5, -4.0), (10406.2, -3.85), (10406.8, -3.7), (10407.4, -3.6),
    (10408.0, -3.75), (10408.4, -3.55), (10408.9, -3.7), (10409.3, -3.6), (10409.7, -3.85), (10410.1, -3.65),
    (10410.5, -3.9), (10410.9, -3.7), (10411.3, -3.95), (10411.7, -3.75), (10412.1, -4.0), (10412.5, -3.8),
    (10412.9, -4.05), (10413.3, -3.85), (10413.7, -4.1), (10414.1, -3.9), (10414.5, -4.2), (10414.9, -3.95),
    (10415.3, -4.25), (10415.7, -4.0), (10416.1, -4.3), (10416.5, -4.1), (10416.9, -4.35), (10417.3, -4.15),
    (10417.7, -4.4), (10418.1, -4.2), (10418.5, -4.45), (10419.0, -4.3), (10419.4, -5.45), (10419.6, -4.5),
    (10431.9, -4.5), (10432.1, -6.0), (10433.3, -3.0), (10433.5, -4.5), (10435.5, -4.5), (10435.7, -4.8),
    (10436.0, -4.5), (10437.5, -4.3), (10438.0, -4.5), (10441.9, -4.45), (10442.3, -4.5),
    (10447.3, -4.5), (10447.5, -5.3), (10447.7, -4.5),
    (10448.0, -4.05), (10449.2, -4.9), (10450.0, -4.0), (10451.0, -5.1), (10452.0, -3.9), (10453.2, -4.8),
    (10454.4, -3.4), (10455.6, -5.0), (10456.5, -4.6),
    (10457.8, -3.3), (10459.5, -5.3), (10460.7, -3.5), (10462.0, -6.0), (10463.2, -4.3), (10463.9, -4.5),
    (10468.6, -4.5), (10468.8, -3.2), (10470.0, -5.65), (10471.0, -6.2), (10472.0, -3.85), (10472.4, -4.5),
    (10473.6, -4.75), (10474.8, -4.1), (10476.0, -4.35), (10477.2, -4.2), (10478.4, -4.3), (10479.6, -4.2),
    (10481.0, -4.3),
    (10481.1, None),
    (10494.4, -6.0), (10494.6, -4.5), (10501.6, -4.5), (10502.0, -5.55), (10503.8, -3.4), (10504.0, -4.9),
    (10505.0, -5.55), (10506.9, -3.4), (10507.1, -4.9), (10507.9, -5.45), (10509.9, -3.4), (10510.1, -4.9),
    (10511.0, -5.45), (10512.9, -3.4),
    (10513.0, None),
    (10526.2, -6.0), (10526.5, -3.0), (10526.8, -4.3), (10527.2, -4.0), (10527.6, -4.35), (10528.0, -4.05),
    (10528.4, -4.35), (10528.8, -4.1), (10529.2, -4.4), (10529.6, -4.1), (10530.0, -4.4), (10530.4, -4.15),
    (10530.8, -4.45), (10531.2, -4.2), (10531.6, -4.4), (10532.0, -4.25), (10532.5, -4.45), (10533.0, -4.3),
    (10533.6, -4.45), (10534.2, -4.35), (10534.8, -4.5),
    (10545.0, -4.5), (10545.3, -4.4), (10545.6, -4.5),
    (10556.8, -4.5), (10557.4, -4.3), (10557.8, -4.45), (10558.2, -4.2), (10558.6, -4.4), (10559.0, -4.1),
    (10559.4, -4.3), (10559.8, -4.0), (10560.2, -4.25), (10560.6, -3.95), (10561.0, -4.2), (10561.4, -3.9),
    (10561.8, -4.15), (10562.2, -6.0), (10562.5, -4.1), (10562.9, -3.85), (10563.3, -4.1), (10563.7, -3.8),
    (10564.1, -4.05), (10564.5, -3.8), (10564.9, -4.05), (10565.3, -3.75), (10565.7, -4.0), (10566.1, -3.7),
    (10566.6, -3.95), (10567.0, -3.7), (10567.4, -3.95), (10567.8, -3.75), (10568.2, -4.0), (10568.6, -3.75),
    (10569.0, -4.0), (10569.4, -3.8), (10569.8, -4.05), (10570.2, -3.8), (10570.6, -4.05), (10571.0, -3.85),
    (10571.4, -4.1), (10571.8, -3.85), (10572.2, -4.1), (10572.6, -3.9), (10573.0, -4.15), (10573.4, -3.9),
    (10573.8, -4.15), (10574.2, -3.95), (10574.6, -4.2), (10575.0, -3.95), (10575.5, -4.2), (10576.0, -4.0),
    (10576.5, -4.25), (10577.0, -4.0), (10577.5, -4.25), (10578.0, -4.05), (10578.5, -4.3), (10579.0, -4.05),
    (10579.5, -4.3), (10580.0, -4.1), (10580.6, -4.3), (10581.2, -4.1), (10581.8, -4.35), (10582.4, -4.1),
    (10583.0, -4.35), (10583.6, -4.15), (10584.2, -4.35), (10584.8, -4.15), (10585.4, -4.35), (10586.1, -4.2),
    (10587.0, -4.4), (10588.0, -4.5),
    (10588.6, -3.2), (10589.8, -5.1), (10590.9, -6.1), (10592.2, -4.1),
    (10592.6, -4.3), (10593.0, -4.0), (10593.4, -4.25), (10593.8, -3.95), (10594.2, -4.2), (10594.6, -3.9),
    (10595.0, -4.15), (10595.4, -5.4), (10595.8, -4.0), (10596.2, -3.8), (10596.6, -4.05), (10597.0, -3.75),
    (10597.4, -4.0), (10597.8, -3.7), (10598.2, -3.95), (10598.6, -3.65), (10599.0, -5.0), (10599.4, -3.8),
    (10599.8, -3.6), (10600.2, -3.85), (10600.6, -3.55), (10601.0, -3.8), (10601.4, -3.5), (10601.8, -3.75),
    (10602.2, -3.45), (10602.6, -3.7), (10603.0, -3.4), (10603.4, -3.65), (10603.8, -3.4), (10604.2, -3.6),
    (10604.6, -3.4), (10605.0, -3.55), (10605.7, -3.5),
    (10606.5, -3.9), (10607.5, -5.2), (10608.4, -4.6), (10609.2, -5.7), (10610.0, -5.2), (10610.6, -4.5),
    (10613.0, -4.3), (10613.5, -4.8), (10614.1, -4.0), (10614.7, -4.85), (10615.3, -4.0), (10615.9, -4.85),
    (10616.5, -4.0), (10617.1, -4.8), (10617.7, -3.95), (10618.3, -4.8), (10618.9, -3.95), (10619.5, -4.8),
    (10620.1, -3.95), (10620.7, -4.8), (10621.3, -4.0), (10621.9, -4.8), (10622.5, -4.0), (10623.1, -4.75),
    (10623.7, -4.05), (10624.3, -4.7), (10624.9, -4.1), (10625.5, -4.7), (10626.1, -4.1), (10626.7, -4.6),
    (10627.5, -4.5), (10627.7, -6.0), (10628.0, -4.5), (10628.9, -3.0), (10629.2, -4.2),
]

year6 = [
    (10629.6, -4.2), (10630.0, -4.0), (10630.4, -4.3), (10630.8, -3.95), (10631.2, -4.25), (10631.6, -3.9),
    (10632.0, -4.15), (10632.4, -3.85), (10632.8, -4.1), (10633.2, -3.8), (10633.6, -4.05), (10634.0, -3.85),
    (10634.4, -4.05), (10634.8, -3.75), (10635.2, -4.0), (10635.6, -3.8), (10636.0, -4.0), (10636.4, -3.75),
    (10636.8, -3.95), (10637.2, -3.7), (10637.6, -3.95), (10638.0, -3.7), (10638.4, -3.9), (10638.8, -3.6),
    (10639.2, -3.8), (10639.6, -3.5), (10640.0, -3.6), (10640.6, -3.35), (10641.0, -3.55), (10641.4, -3.4),
    (10641.8, -3.6), (10642.2, -3.45), (10642.6, -3.7), (10643.0, -3.5), (10643.4, -5.5), (10643.7, -3.55),
    (10644.1, -3.8), (10644.5, -3.6), (10644.9, -3.85), (10645.3, -3.7), (10645.7, -4.0), (10646.1, -3.8),
    (10646.5, -4.1), (10646.9, -3.9), (10647.3, -4.25), (10647.7, -4.05), (10648.1, -4.4), (10648.5, -4.2),
    (10648.9, -4.45), (10649.2, -3.9), (10649.3, -4.4),
    (10649.5, None),
    (10661.0, -5.9), (10661.3, -4.6), (10661.8, -4.45), (10662.2, -3.05), (10662.4, -4.5), (10671.1, -4.5),
    (10671.3, -5.6),
    (10671.5, None),
    (10691.4, -3.9), (10691.8, -4.2), (10692.5, -4.4), (10693.2, -4.5), (10694.1, -4.5), (10694.3, -6.0),
    (10694.7, -4.5), (10695.1, -3.05), (10695.3, -4.5),
    (10695.5, None),
    (10702.0, -4.45), (10726.6, -4.5), (10726.8, -5.5), (10727.0, -4.5), (10727.6, -4.45), (10728.3, -4.35),
    (10729.0, -4.25), (10729.5, -4.1), (10729.7, -5.95), (10730.2, -4.5), (10730.7, -3.05), (10731.0, -4.2),
    (10731.4, -3.95), (10731.8, -4.2), (10732.2, -3.9), (10732.6, -4.15), (10733.0, -3.85), (10733.4, -4.1),
    (10733.8, -3.85), (10734.2, -4.1), (10734.6, -3.8), (10735.0, -4.05), (10735.4, -3.8), (10735.8, -4.05),
    (10736.2, -3.75), (10736.6, -4.0), (10737.0, -3.8), (10737.4, -4.0), (10737.8, -3.75), (10738.2, -3.95),
    (10738.6, -3.7), (10739.0, -3.95), (10739.4, -3.75), (10739.8, -3.95), (10740.2, -3.7), (10740.6, -3.9),
    (10741.0, -3.7), (10741.4, -3.9), (10741.8, -3.65), (10742.3, -3.9), (10742.8, -3.65), (10743.3, -3.85),
    (10743.8, -3.65), (10744.3, -3.85), (10744.8, -3.6), (10745.3, -3.85), (10745.8, -3.6), (10746.3, -3.85),
    (10746.8, -3.6), (10747.3, -3.85), (10747.8, -3.6), (10748.3, -3.85), (10748.8, -3.6), (10749.3, -3.85),
    (10749.8, -3.65), (10750.3, -3.9), (10750.8, -3.65), (10751.3, -3.9), (10751.8, -3.7), (10752.3, -3.9),
    (10752.8, -3.7), (10753.3, -3.95), (10753.8, -3.75), (10754.3, -3.95), (10754.8, -3.8), (10755.3, -4.0),
    (10755.8, -3.8), (10756.3, -4.05), (10756.8, -3.85), (10757.3, -4.05), (10757.8, -3.9), (10758.3, -4.1),
    (10758.8, -3.95), (10759.3, -4.15), (10759.8, -4.0), (10760.3, -4.2), (10760.8, -4.05), (10761.3, -4.25),
    (10761.8, -4.1), (10762.3, -4.3), (10762.8, -4.15), (10763.3, -4.35), (10763.8, -4.2), (10764.4, -4.4),
    (10765.0, -4.3), (10765.8, -4.45), (10766.8, -4.4), (10768.0, -4.5),
    (10777.0, -4.5), (10777.4, -4.2), (10777.8, -4.45), (10778.3, -4.0), (10778.8, -4.4), (10779.3, -4.1),
    (10779.8, -4.45), (10780.3, -4.2), (10780.8, -4.5), (10781.8, -4.5), (10782.0, -4.75), (10782.2, -4.5),
    (10795.8, -4.5), (10796.0, -4.45), (10796.2, -4.5),
    (10814.6, -4.5), (10815.2, -4.2), (10815.7, -4.5), (10816.2, -3.9), (10816.7, -4.6), (10817.2, -3.7),
    (10817.7, -5.1), (10818.2, -3.6), (10818.7, -4.4), (10819.2, -3.4), (10819.7, -4.9), (10820.2, -3.5),
    (10820.7, -5.4), (10821.2, -3.3), (10821.7, -4.6), (10822.2, -3.1), (10822.7, -5.0), (10823.2, -3.4),
    (10823.7, -4.4), (10824.2, -3.0), (10824.7, -5.5), (10825.2, -3.6), (10825.7, -4.8), (10826.2, -3.3),
    (10826.7, -5.6), (10827.2, -3.7), (10827.7, -4.5), (10828.2, -3.2), (10828.7, -5.8), (10829.2, -3.8),
    (10829.7, -5.0), (10830.2, -3.5), (10830.7, -5.9), (10831.2, -3.9), (10831.7, -5.2), (10832.2, -3.6),
    (10832.7, -6.0), (10833.2, -4.0), (10833.7, -5.4), (10834.2, -3.7), (10834.7, -5.8), (10835.2, -4.1),
    (10835.7, -5.3), (10836.2, -3.8), (10836.7, -6.0), (10837.2, -4.3), (10837.7, -5.5), (10838.2, -4.0),
    (10838.7, -5.9),
    (10839.0, None),
    (10852.8, -4.5), (10861.9, -4.5), (10862.0, -5.5), (10862.3, -3.1), (10862.5, -4.5), (10863.0, -4.5),
    (10863.2, None),
    (10890.0, -6.0), (10890.5, -4.5), (10891.1, -3.05), (10891.5, -4.5), (10892.1, -3.7), (10892.5, -3.9),
    (10892.9, -3.65), (10893.3, -3.85), (10893.7, -3.6), (10894.1, -3.8), (10894.4, -5.5), (10894.7, -3.75),
    (10895.1, -3.6), (10895.5, -3.8), (10895.9, -3.55), (10896.3, -3.75), (10896.7, -3.55), (10897.1, -3.75),
    (10897.5, -3.5), (10897.9, -3.7), (10898.3, -3.5), (10898.7, -3.7), (10899.1, -3.45), (10899.5, -3.65),
    (10899.9, -3.45), (10900.3, -3.65), (10900.7, -3.45), (10901.1, -3.6), (10901.5, -3.4), (10901.9, -3.6),
    (10902.3, -3.4), (10902.7, -3.55), (10903.1, -3.4), (10903.5, -3.55), (10903.9, -3.35), (10904.3, -3.5),
    (10904.7, -3.3), (10905.2, -3.25), (10905.6, -3.45), (10906.0, -3.4), (10906.4, -3.6), (10906.8, -3.5),
    (10907.2, -3.7), (10907.6, -3.6), (10908.0, -3.8), (10908.4, -3.7), (10908.8, -3.9), (10909.2, -3.8),
    (10909.6, -4.0), (10910.0, -3.9), (10910.4, -4.1), (10910.8, -4.0), (10911.2, -4.2), (10911.6, -4.1),
    (10912.0, -4.3), (10912.4, -4.2), (10912.8, -4.4), (10913.2, -4.3), (10913.6, -4.45), (10914.0, -4.5),
    (10922.1, -4.5), (10922.3, -5.5), (10922.5, -4.5),
    (10929.0, -4.5), (10929.5, -4.35), (10930.0, -4.1), (10930.5, -6.0), (10931.0, -4.5), (10931.5, -3.05),
    (10931.8, -4.5), (10943.3, -4.5),
]

# ---------------------------------------------------------------------------
# Panels: label and visible time window [yr]
# ---------------------------------------------------------------------------
panel_labels = ["1st year", "2nd year", "3rd year", "4th year", "5th year", "6th year"]
panel_ranges = [
    (8804.6, 9180.4), (9174.8, 9550.2), (9534.8, 9910.2),
    (9899.9, 10275.3), (10264.5, 10639.9), (10630.8, 11006.2),
]

# ---------------------------------------------------------------------------
# Activity strip along the bottom of each panel
# ---------------------------------------------------------------------------
strip_spans = [
    (8810.2, 10481.0), (10494.4, 10513.0), (10526.2, 10649.3), (10691.4, 10696.5),
    (10702.0, 10839.0), (10852.8, 10863.0), (10890.0, 10943.3),
]

strip_segments = [
    (8824.8, 8828.6, "yellow"), (8838.0, 8839.6, "orange"), (8839.6, 8846.1, "purple"), (8846.1, 8848.3, "lightblue"),
    (8870.8, 8872.3, "orange"), (8872.3, 8875.0, "cyan"), (8896.0, 8897.9, "lightblue"), (8897.9, 8899.8, "blue"),
    (8899.8, 8901.6, "orange"), (8901.6, 8906.6, "coral"), (8906.9, 8907.9, "cyan"),
    (8923.8, 8931.0, "cyan"), (8931.0, 8932.9, "blue"), (8932.9, 8934.5, "yellow"), (8934.5, 8936.3, "orange"),
    (8936.3, 8937.9, "lightblue"), (8938.5, 8940.4, "blue"), (8940.4, 8941.7, "lightblue"),
    (8964.4, 8966.4, "lightblue"), (8966.4, 8967.9, "orange"), (8980.4, 8981.0, "orange"), (8981.0, 8983.5, "lightblue"),
    (8983.5, 8985.7, "darkred"), (8991.2, 8993.7, "lightgreen"), (8993.7, 9001.0, "cyan"), (9001.0, 9002.0, "orange"),
    (9002.0, 9004.7, "lightgreen"), (9014.1, 9017.0, "lightgreen"), (9021.2, 9023.7, "lightgreen"),
    (9034.5, 9037.0, "lightgreen"), (9037.0, 9038.7, "orange"), (9038.7, 9045.3, "purple"), (9045.3, 9047.4, "blue"),
    (9047.4, 9049.7, "lightblue"), (9064.4, 9066.9, "lightblue"), (9066.9, 9068.4, "orange"),
    (9091.8, 9097.2, "coral"), (9097.2, 9099.4, "lightblue"), (9099.4, 9100.9, "orange"),
    (9110.9, 9113.6, "lightgreen"), (9120.3, 9120.9, "hotpink"), (9121.1, 9123.4, "lightgreen"),
    (9128.4, 9129.9, "lightblue"), (9130.3, 9133.6, "lightgreen"), (9133.6, 9135.0, "orange"),
    (9144.0, 9146.5, "lightgreen"), (9151.5, 9153.7, "lightgreen"), (9160.2, 9161.2, "coral"),
    (9161.2, 9163.4, "blue"), (9163.4, 9164.6, "orange"),
    (9191.0, 9194.6, "cyan"), (9201.9, 9203.4, "orange"), (9203.4, 9211.1, "purple"), (9211.6, 9213.1, "lime"),
    (9213.1, 9236.7, "salmon"), (9236.7, 9238.4, "orange"), (9238.4, 9240.8, "cyan"), (9240.8, 9261.5, "salmon"),
    (9261.5, 9264.0, "lightblue"), (9264.0, 9271.2, "grey"), (9271.2, 9273.0, "orange"), (9273.0, 9277.3, "coral"),
    (9277.3, 9290.7, "salmon"), (9292.0, 9296.8, "cyan"), (9296.8, 9298.7, "blue"), (9298.7, 9300.4, "orange"),
    (9327.2, 9332.8, "cyan"), (9332.8, 9334.0, "orange"), (9347.4, 9349.1, "lightblue"), (9349.1, 9355.2, "darkred"),
    (9360.5, 9366.1, "green"), (9366.1, 9367.3, "orange"), (9373.4, 9378.3, "green"),
    (9394.1, 9399.0, "cyan"), (9399.0, 9400.9, "orange"), (9400.9, 9408.7, "purple"), (9409.2, 9411.1, "yellow"),
    (9411.1, 9412.4, "lightblue"), (9412.4, 9413.6, "yellow"), (9413.6, 9417.2, "cyan"),
    (9431.1, 9433.0, "lightblue"), (9433.0, 9435.0, "orange"), (9435.0, 9439.9, "blue"), (9439.9, 9443.3, "yellow"),
    (9452.5, 9455.0, "salmon"), (9462.7, 9464.2, "coral"), (9464.2, 9465.9, "orange"),
    (9495.1, 9500.0, "green"), (9500.0, 9501.7, "orange"), (9513.3, 9515.8, "green"), (9519.4, 9525.5, "darkred"),
    (9525.5, 9527.9, "yellow"), (9534.0, 9535.7, "orange"),
    (9566.3, 9568.3, "orange"), (9568.3, 9576.0, "purple"), (9576.0, 9577.5, "lightblue"),
    (9589.5, 9596.3, "cyan"), (9596.3, 9598.5, "blue"), (9598.5, 9600.0, "orange"), (9619.5, 9624.7, "cyan"),
    (9630.7, 9632.6, "orange"), (9632.6, 9638.2, "coral"), (9638.2, 9639.3, "orange"),
    (9697.4, 9699.3, "coral"), (9699.3, 9703.0, "orange"), (9712.4, 9719.9, "darkred"),
    (9724.4, 9730.4, "green"), (9730.4, 9731.9, "orange"), (9734.9, 9741.3, "green"),
    (9764.9, 9768.6, "lightblue"), (9768.6, 9775.4, "purple"), (9775.4, 9778.4, "blue"), (9804.2, 9807.9, "yellow"),
    (9854.8, 9860.4, "green"), (9860.4, 9861.5, "orange"), (9875.4, 9881.0, "green"), (9881.0, 9882.2, "orange"),
    (9882.2, 9884.8, "coral"), (9888.5, 9896.0, "darkred"), (9896.0, 9897.8, "orange"),
    (9921.9, 9930.7, "blue"), (9930.7, 9931.9, "orange"), (9931.9, 9939.8, "purple"), (9963.6, 9965.1, "orange"),
    (10000.0, 10001.2, "orange"), (10031.2, 10032.7, "orange"), (10063.9, 10065.8, "orange"),
    (10065.8, 10066.8, "coral"), (10078.6, 10084.8, "darkred"), (10091.4, 10096.3, "green"),
    (10096.3, 10097.8, "orange"), (10103.9, 10109.3, "green"), (10123.3, 10131.4, "purple"),
    (10131.4, 10132.7, "orange"), (10132.7, 10148.6, "blue"), (10164.1, 10165.4, "orange"),
    (10197.0, 10198.5, "orange"), (10228.0, 10232.9, "green"), (10232.9, 10234.3, "orange"),
    (10242.0, 10246.2, "green"), (10246.2, 10249.4, "coral"), (10254.8, 10262.9, "darkred"),
    (10262.9, 10264.1, "orange"),
    (10284.2, 10292.0, "purple"), (10292.0, 10293.9, "orange"), (10293.9, 10307.4, "blue"),
    (10329.9, 10331.3, "orange"), (10365.6, 10367.3, "orange"), (10397.4, 10398.6, "orange"),
    (10432.1, 10433.8, "orange"), (10433.8, 10434.6, "coral"), (10448.0, 10454.1, "darkred"),
    (10458.5, 10463.4, "green"), (10463.4, 10464.6, "orange"), (10468.8, 10474.1, "green"),
    (10494.4, 10496.1, "orange"), (10496.1, 10504.2, "purple"), (10504.2, 10512.8, "blue"),
    (10526.2, 10527.9, "orange"), (10562.2, 10563.6, "orange"), (10589.0, 10594.0, "green"),
    (10594.0, 10595.4, "orange"), (10605.7, 10610.6, "green"), (10617.4, 10626.5, "darkred"),
    (10626.5, 10628.9, "orange"),
    (10661.2, 10663.1, "orange"), (10663.1, 10670.6, "purple"), (10670.6, 10671.3, "grey"),
    (10694.3, 10696.2, "orange"), (10730.0, 10731.6, "orange"), (10795.5, 10796.8, "orange"),
    (10819.5, 10828.0, "darkred"), (10828.0, 10839.0, "green"), (10852.8, 10861.4, "purple"),
    (10861.4, 10863.0, "orange"), (10890.0, 10891.7, "orange"), (10930.5, 10932.1, "orange"),
]

red_ticks = [
    8818.0, 8836.1, 8866.9, 8887.5, 8919.2, 8953.1, 8962.6, 8979.1, 9061.2, 9064.1, 9086.5, 9110.5, 9143.6,
    9171.9, 9177.6, 9187.8, 9313.8, 9340.6, 9386.8, 9423.3, 9450.0, 9472.0, 9484.0, 9506.0, 9540.0,
    9548.0, 9563.0, 9602.0, 9625.0, 9660.0, 9688.0, 9705.0, 9744.0, 9782.0, 9820.0, 9846.0, 9866.0, 9903.0,
    9914.0, 9945.0, 9960.0, 9973.0, 9995.0, 10012.0, 10040.0, 10055.0, 10070.0, 10088.0, 10118.0, 10160.0,
    10175.0, 10188.0, 10204.0, 10218.0, 10236.0, 10252.0, 10272.0, 10322.0, 10340.0, 10352.0, 10386.0,
    10405.0, 10412.0, 10441.0, 10446.0, 10476.0, 10529.0, 10535.0, 10568.0, 10583.0, 10600.0, 10612.0,
    10639.6, 10703.9, 10722.0, 10742.0, 10765.0, 10790.0, 10812.0, 10904.2, 10940.0,
]

grey_ticks = [
    8822.7, 8850.4, 8855.0, 8860.5, 8865.0, 8877.5, 8878.8, 8907.0, 8970.2, 8989.0, 8991.8, 9010.0, 9013.0, 9025.0,
    9027.0, 9073.8, 9078.0, 9101.6, 9168.0, 9183.0, 9185.0, 9190.0, 9232.0, 9246.0, 9253.0, 9305.0, 9318.0,
    9337.0, 9357.0, 9370.0, 9382.0, 9388.0, 9426.0, 9446.0, 9458.0, 9480.0, 9489.0, 9505.0, 9529.0, 9545.0,
    9553.0, 9584.0, 9611.0, 9648.0, 9672.0, 9692.0, 9750.0, 9757.0, 9790.0, 9812.0, 9833.0, 9870.0, 9892.0,
    9908.0, 9918.0, 9950.0, 9955.0, 9978.0, 9983.0, 10008.0, 10018.0, 10046.0, 10059.0, 10074.0, 10113.0,
    10138.0, 10153.0, 10183.0, 10208.0, 10222.0, 10259.0, 10268.0, 10276.0, 10313.0, 10345.0, 10358.0,
    10380.0, 10420.0, 10426.0, 10453.0, 10478.0, 10538.0, 10549.0, 10578.0, 10591.0, 10621.0, 10643.4,
    10644.3, 10645.5, 10647.6, 10699.0, 10709.0, 10725.8, 10727.0, 10770.0, 10803.0, 10894.4, 10922.3,
    10926.0, 10928.0, 10929.0, 10938.0,
]

event_times = [8966.4, 9086.2, 9191.0]

palette = {
    "yellow": "#e3e31c", "orange": "#ffa81a", "purple": "#9a74e0", "lightblue": "#a9dbe9",
    "cyan": "#8fdde8", "blue": "#1670c8", "coral": "#f6763f", "darkred": "#c43c10",
    "green": "#148a14", "lightgreen": "#aeeaa8", "grey": "#a6a6a6", "salmon": "#f5a8a8",
    "lime": "#4fd03a", "hotpink": "#ff5fa8",
}
strip_bg = "#f9d8d8"
red_tick_colour = "#c4383a"
grey_tick_colour = "#8c7c7c"
line_colour = "#2c7fb8"

# ---------------------------------------------------------------------------
Y_LO, Y_HI = -8.93, -2.1
STRIP_H = 0.32
FONT = "Liberation Sans, Arial, Helvetica, sans-serif"
TICK_FONT = dict(size=10, color="#333333", family=FONT)
W, H = 1075, 749
PLOT_L, PLOT_R = 66, 1068
PANEL_TOP0, PANEL_STEP, PANEL_H = 9.0, 122.4, 101.0

series = year1 + year2 + year3 + year4 + year5 + year6
t_all = [p[0] for p in series]
a_all = [p[1] for p in series]

fig = make_subplots(rows=6, cols=1)


def bar_from_spans(spans, colours, base, height):
    mids = [(s + e) / 2.0 for s, e in spans]
    widths = [e - s for s, e in spans]
    return go.Bar(x=mids, y=[height] * len(spans), base=base, width=widths,
                  marker=dict(color=colours, line=dict(width=0)),
                  showlegend=False, hoverinfo="skip")


for r in range(1, 7):
    fig.add_trace(bar_from_spans(strip_spans, strip_bg, Y_LO, STRIP_H), row=r, col=1)
    fig.add_trace(bar_from_spans([(s, e) for s, e, _ in strip_segments],
                                 [palette[k] for _, _, k in strip_segments], Y_LO, STRIP_H), row=r, col=1)
    fig.add_trace(bar_from_spans([(x - 0.15, x + 0.15) for x in grey_ticks], grey_tick_colour,
                                 Y_LO, STRIP_H * 0.5), row=r, col=1)
    fig.add_trace(bar_from_spans([(x - 0.2, x + 0.2) for x in red_ticks], red_tick_colour,
                                 Y_LO, STRIP_H), row=r, col=1)
    fig.add_trace(go.Scatter(x=t_all, y=a_all, mode="lines", connectgaps=False,
                             line=dict(color=line_colour, width=1),
                             showlegend=False, hoverinfo="skip"), row=r, col=1)
    fig.add_trace(go.Scatter(x=event_times, y=[-9.27] * len(event_times), mode="markers",
                             marker=dict(symbol="triangle-up", size=9, color="#f08080"),
                             cliponaxis=False, showlegend=False, hoverinfo="skip"), row=r, col=1)

annotations = []
for i in range(6):
    lo, hi = panel_ranges[i]
    top_px = PANEL_TOP0 + PANEL_STEP * i
    bot_px = top_px + PANEL_H
    dom = [1 - bot_px / H, 1 - top_px / H]
    first = int(math.ceil(lo / 10.0)) * 10
    tv = list(range(first, int(hi) + 1, 10))
    tt = [str(v) if v % 20 == 0 else "" for v in tv]
    xa = "xaxis" if i == 0 else "xaxis%d" % (i + 1)
    ya = "yaxis" if i == 0 else "yaxis%d" % (i + 1)
    xref = "x" if i == 0 else "x%d" % (i + 1)
    standoff = -7 if i == 5 else -5
    # a label sitting on the right frame edge is right-aligned so it stays inside the figure
    edge_labels = [v for v in tv if v % 20 == 0 and v > hi - 2]
    for v in edge_labels:
        tt[tv.index(v)] = ""
        annotations.append(dict(
            text=str(v), xref=xref, yref="paper", x=v, y=1 - (bot_px + 9.5) / H,
            xanchor="right", yanchor="middle", xshift=2, showarrow=False, font=TICK_FONT,
        ))
    fig.layout[xa].update(
        range=[lo, hi], tickmode="array", tickvals=tv, ticktext=tt, ticks="outside", ticklen=4,
        tickcolor="#333333", tickfont=TICK_FONT, ticklabelstandoff=standoff,
        showgrid=True, gridcolor="#d2d2d2", gridwidth=1, zeroline=False,
        showline=True, linecolor="#333333", linewidth=1, mirror=True, automargin=False,
    )
    fig.layout[ya].update(
        domain=dom, range=[Y_LO, Y_HI], tickmode="array", tickvals=[-3, -4, -5, -6, -7, -8],
        ticktext=["-3", "-4", "-5", "-6", "-7", "-8"], ticks="outside", ticklen=3, tickcolor="#333333",
        tickfont=TICK_FONT,
        showgrid=True, gridcolor="#e4e4e4", gridwidth=1.5, zeroline=False,
        showline=True, linecolor="#333333", linewidth=1, mirror=True, automargin=False,
    )
    annotations.append(dict(
        text=panel_labels[i], xref="paper", yref="paper", x=(40 - PLOT_L) / (PLOT_R - PLOT_L),
        y=(dom[0] + dom[1]) / 2, textangle=-90, showarrow=False, xanchor="center", yanchor="middle",
        font=dict(size=14, color="#1a1a1a", family=FONT),
    ))

annotations.append(dict(
    text="alpha [deg]", xref="paper", yref="paper", x=(15 - PLOT_L) / (PLOT_R - PLOT_L), y=1 - 375 / H,
    textangle=-90, showarrow=False, xanchor="center", yanchor="middle",
    font=dict(size=14, color="#1a1a1a", family=FONT),
))
annotations.append(dict(
    text="time [yr]", xref="paper", yref="paper", x=(562 - PLOT_L) / (PLOT_R - PLOT_L), y=1 - 741.3 / H,
    showarrow=False, xanchor="center", yanchor="middle", borderpad=0,
    font=dict(size=13, color="#1a1a1a", family=FONT),
))

fig.update_layout(
    width=W, height=H, margin=dict(l=PLOT_L, r=W - PLOT_R, t=0, b=0),
    paper_bgcolor="white", plot_bgcolor="white", barmode="overlay", bargap=0,
    showlegend=False, annotations=annotations, font=dict(family=FONT),
)

fig.write_html("out.html")
